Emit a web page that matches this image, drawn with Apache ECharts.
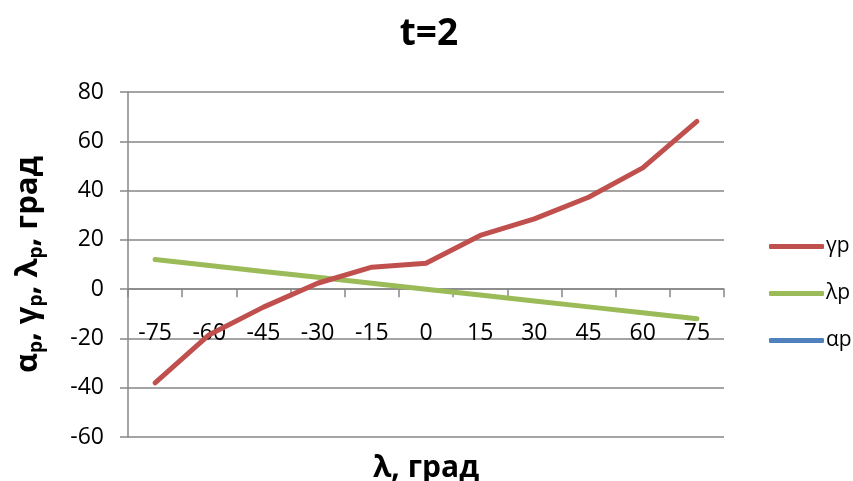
<!DOCTYPE html>
<html>
<head>
<meta charset="utf-8">
<script src="https://cdn.jsdelivr.net/npm/echarts@6/dist/echarts.min.js"></script>
<style>html,body{margin:0;padding:0;background:#fff;}#c{width:853px;height:481px;}</style>
</head>
<body>
<div id="c"></div>
<script>
var categories = ['-75','-60','-45','-30','-15','0','15','30','45','60','75'];
var gammaP = [-38, -18.5, -7.3, 2.4, 8.9, 10.5, 21.8, 28.5, 37.3, 49.2, 68.1];
var lambdaP = [12, 9.6, 7.2, 4.8, 2.4, 0, -2.4, -4.8, -7.2, -9.6, -12];
var alphaP = [];
var yTicks = {min: -60, max: 80, interval: 20};

var FONT = '"Open Sans", sans-serif';
var W = 853, H = 481;
var gridBox = {left: 128, right: 129, top: 92, bottom: 44};
var plotH = H - gridBox.top - gridBox.bottom;
// shift the category axis (line, ticks, labels, name) onto the value-axis zero
var zeroOffset = -plotH * (0 - yTicks.min) / (yTicks.max - yTicks.min);

var chart = echarts.init(document.getElementById('c'));
chart.setOption({
  animation: false,
  backgroundColor: '#fff',
  title: {
    text: 't=2', left: 424, top: 11, textAlign: 'center',
    textStyle: {fontFamily: FONT, fontWeight: 'bold', fontSize: 37, color: '#000'}
  },
  legend: {
    orient: 'vertical', left: 764, top: 231,
    itemWidth: 55, itemHeight: 5, itemGap: 26,
    icon: 'roundRect',
    data: ['γp','λp','αp'],
    textStyle: {fontFamily: FONT, fontSize: 21, color: '#000', padding: [0,0,0,-3]}
  },
  grid: {left: gridBox.left, right: gridBox.right, top: gridBox.top, bottom: gridBox.bottom, outerBoundsMode: 'none', containLabel: false},
  xAxis: {
    type: 'category', data: categories, boundaryGap: true,
    position: 'bottom', offset: zeroOffset,
    name: 'λ, град', nameLocation: 'middle', nameGap: 164, nameMoveOverlap: false,
    nameTextStyle: {fontFamily: FONT, fontWeight: 'bold', fontSize: 30, color: '#000'},
    axisLine: {onZero: false, lineStyle: {color: '#868686', width: 1.5}},
    axisTick: {show: true, interval: 0, length: 8, lineStyle: {color: '#868686', width: 1.5}},
    axisLabel: {interval: 0, margin: 33, fontFamily: FONT, fontSize: 23, color: '#000'},
    splitLine: {show: false}
  },
  yAxis: {
    type: 'value', min: yTicks.min, max: yTicks.max, interval: yTicks.interval,
    name: '{n|α}{s|p}{n|, γ}{s|p}{n|, λ}{s|p}{n|, град}',
    nameLocation: 'middle', nameGap: 82, nameMoveOverlap: false,
    nameTextStyle: {
      rich: {
        n: {fontFamily: FONT, fontWeight: 'bold', fontSize: 31, color: '#000'},
        s: {fontFamily: FONT, fontWeight: 'bold', fontSize: 19, color: '#000', verticalAlign: 'bottom', padding: [16,0,0,0]}
      }
    },
    axisLine: {show: true, lineStyle: {color: '#868686', width: 1.5}},
    axisTick: {show: true, length: 8, lineStyle: {color: '#868686', width: 1.5}},
    axisLabel: {margin: 24, fontFamily: FONT, fontSize: 23, color: '#000'},
    splitLine: {show: true, lineStyle: {color: '#868686', width: 1.5}}
  },
  series: [
    {name: 'γp', type: 'line', data: gammaP, showSymbol: false, symbol: 'none',
     lineStyle: {color: '#C0504D', width: 5, cap: 'round', join: 'round'}, itemStyle: {color: '#C0504D'}, z: 3},
    {name: 'λp', type: 'line', data: lambdaP, showSymbol: false, symbol: 'none',
     lineStyle: {color: '#9BBB59', width: 5, cap: 'round', join: 'round'}, itemStyle: {color: '#9BBB59'}, z: 2},
    {name: 'αp', type: 'line', data: alphaP, showSymbol: false, symbol: 'none',
     lineStyle: {color: '#4F81BD', width: 5}, itemStyle: {color: '#4F81BD'}, z: 1}
  ]
});
</script>
</body>
</html>
